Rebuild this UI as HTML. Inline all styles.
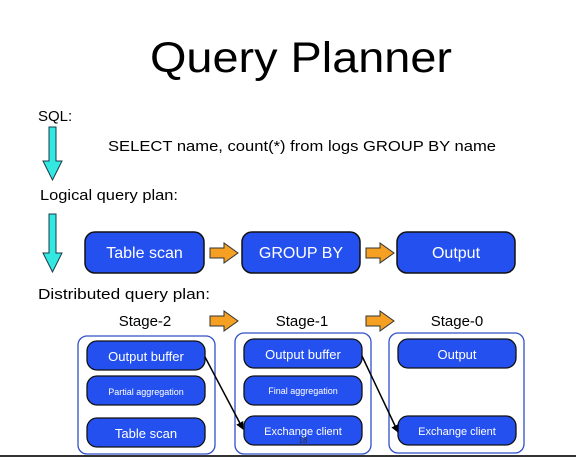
<!DOCTYPE html>
<html><head><meta charset="utf-8"><style>
html,body{margin:0;padding:0;background:#fff;}
svg{display:block;}
text{font-family:"Liberation Sans",sans-serif;}
</style></head><body>
<svg width="576" height="457" viewBox="0 0 576 457" xmlns="http://www.w3.org/2000/svg">
<defs>
<marker id="ah" markerWidth="8" markerHeight="8" refX="7" refY="4" orient="auto" markerUnits="userSpaceOnUse">
<path d="M0,0 L8,4 L0,8 z" fill="#000"/></marker>
</defs>
<rect width="576" height="457" fill="#fff"/>
<text x="301" y="72" font-size="43" text-anchor="middle" textLength="302" lengthAdjust="spacingAndGlyphs">Query Planner</text>
<text x="38" y="121" font-size="15">SQL:</text>
<text x="108" y="151" font-size="15" textLength="388" lengthAdjust="spacingAndGlyphs">SELECT name, count(*) from logs GROUP BY name</text>
<text x="40" y="200" font-size="15" textLength="138" lengthAdjust="spacingAndGlyphs">Logical query plan:</text>
<text x="38" y="299" font-size="15" textLength="172" lengthAdjust="spacingAndGlyphs">Distributed query plan:</text>
<path d="M49,127 L56,127 L56,161 L62,161 L52.5,180 L43,161 L49,161 Z" fill="#33e8e0" stroke="#1a3a4a" stroke-width="1"/>
<path d="M49,214 L56,214 L56,253 L62,253 L52.5,272 L43,253 L49,253 Z" fill="#33e8e0" stroke="#1a3a4a" stroke-width="1"/>
<g fill="#2450f0" stroke="#111" stroke-width="1.5">
<rect x="85" y="232" width="119" height="41" rx="10"/>
<rect x="242" y="232" width="118" height="41" rx="10"/>
<rect x="397" y="232" width="118" height="41" rx="10"/>
</g>
<g fill="#fff" font-size="16" text-anchor="middle">
<text x="144.5" y="258">Table scan</text>
<text x="301" y="258">GROUP BY</text>
<text x="456" y="258">Output</text>
</g>
<g fill="#f5a023" stroke="#333" stroke-width="1">
<path d="M210,248 L224,248 L224,243 L238,253 L224,263 L224,258 L210,258 Z"/>
<path d="M366,248 L380,248 L380,243 L394,253 L380,263 L380,258 L366,258 Z"/>
<path d="M210,316 L224,316 L224,311 L238,321 L224,331 L224,326 L210,326 Z"/>
<path d="M366,316 L380,316 L380,311 L394,321 L380,331 L380,326 L366,326 Z"/>
</g>
<g font-size="15" text-anchor="middle">
<text x="145" y="326">Stage-2</text>
<text x="302" y="326">Stage-1</text>
<text x="457" y="326">Stage-0</text>
</g>
<g fill="none" stroke="#3050c8" stroke-width="1.3">
<rect x="78" y="336" width="137" height="118" rx="9"/>
<rect x="235" y="333" width="136" height="121" rx="9"/>
<rect x="389" y="333" width="135" height="120" rx="9"/>
</g>
<g fill="#2450f0" stroke="#111" stroke-width="1.3">
<rect x="87" y="341" width="118" height="29" rx="10"/>
<rect x="87" y="376" width="118" height="29" rx="10"/>
<rect x="87" y="418" width="118" height="29" rx="10"/>
<rect x="244" y="339" width="118" height="29" rx="10"/>
<rect x="244" y="376" width="118" height="29" rx="10"/>
<rect x="244" y="416" width="118" height="29" rx="10"/>
<rect x="398" y="339" width="118" height="29" rx="10"/>
<rect x="398" y="416" width="118" height="29" rx="10"/>
</g>
<g fill="#fff" text-anchor="middle">
<text x="146" y="361" font-size="13">Output buffer</text>
<text x="146" y="395" font-size="9">Partial aggregation</text>
<text x="146" y="438" font-size="13">Table scan</text>
<text x="303" y="359" font-size="13">Output buffer</text>
<text x="303" y="394" font-size="9">Final aggregation</text>
<text x="303" y="435" font-size="11">Exchange client</text>
<text x="457" y="359" font-size="13">Output</text>
<text x="457" y="435" font-size="11">Exchange client</text>
</g>
<text x="303" y="443" font-size="8" text-anchor="middle" fill="#333">18</text>
<g stroke="#000" stroke-width="1.5" marker-end="url(#ah)">
<line x1="205" y1="357" x2="243" y2="429"/>
<line x1="362" y1="356" x2="398" y2="432"/>
</g>
<rect x="0" y="455" width="576" height="2" fill="#333"/>
</svg>
</body></html>
